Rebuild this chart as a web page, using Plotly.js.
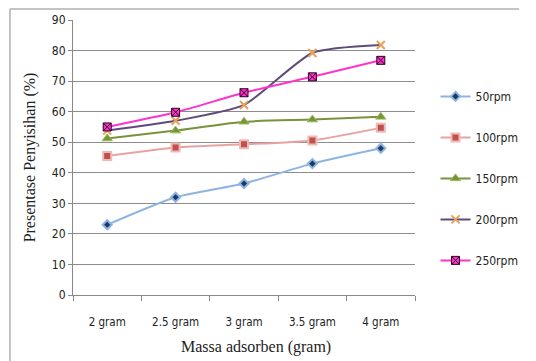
<!DOCTYPE html>
<html><head><meta charset="utf-8">
<script src="https://cdn.plot.ly/plotly-3.0.1.min.js"></script>
<style>html,body{margin:0;padding:0;background:#fff}#chart{width:536px;height:361px}</style>
</head><body><div id="chart"></div>
<script>
const categories = ["2 gram", "2.5 gram", "3 gram", "3.5 gram", "4 gram"];
const seriesNames = ["50rpm", "100rpm", "150rpm", "200rpm", "250rpm"];
const rpm50  = [23.0, 32.0, 36.5, 43.0, 48.0];
const rpm100 = [45.5, 48.3, 49.3, 50.6, 54.7];
const rpm150 = [51.2, 53.8, 56.7, 57.4, 58.3];
const rpm200 = [53.8, 57.0, 62.2, 79.2, 81.8];
const rpm250 = [55.0, 59.8, 66.2, 71.4, 76.8];
const yTicks = [0,10,20,30,40,50,60,70,80,90];

const values = [rpm50, rpm100, rpm150, rpm200, rpm250];
const styles = [
  {line:'#8db4e2', marker:{symbol:'diamond', size:7, color:'#1f3864', line:{color:'#8db4e2', width:2}}},
  {line:'#e6a3a1', marker:{symbol:'square', size:8, color:'#c0504d', line:{color:'#f0b8b6', width:2}}},
  {line:'#77933c', marker:{symbol:'triangle-up', size:9, color:'#77933c', line:{color:'#9bbb59', width:1}}},
  {line:'#604a7b', marker:{symbol:'x-thin-open', size:8, color:'#e8a05a', line:{color:'#e8a05a', width:2}}},
  {line:'#ff33cc', marker:{symbol:'square-x', size:8, color:'#ff33cc', line:{color:'#2b0020', width:1}}}
];
const traces = values.map((v,i)=>({
  x: categories, y: v, name: seriesNames[i], type:'scatter', mode:'lines+markers',
  line:{color:styles[i].line, width:2, shape:'spline', smoothing:0.6},
  marker: styles[i].marker, legendgroup:'g'+i
}));
const tickFont = {family:'DejaVu Sans Condensed, Liberation Sans Narrow, sans-serif', size:12, color:'#222'};

const layout = {
  width:536, height:361,
  margin:{l:73, r:105, t:20, b:66},
  paper_bgcolor:'#fff', plot_bgcolor:'#fff',
  showlegend:true,
  legend:{x:1.06, xanchor:'left', y:0.775, yanchor:'top', tracegroupgap:22,
    font:{family:'DejaVu Sans Condensed, Liberation Sans Narrow, sans-serif', size:12, color:'#222'},
    itemwidth:30},
  xaxis:{type:'category', tickson:'boundaries', ticks:'outside', ticklen:5, tickcolor:'#888',
    showline:true, linecolor:'#888', linewidth:1, showgrid:false, ticklabelstandoff:16,
    tickfont:{family:'DejaVu Sans Condensed, Liberation Sans Narrow, sans-serif', size:11.5, color:'#222'},
    range:[-0.5,4.5]},
  yaxis:{range:[0,90], tickvals:yTicks, ticks:'outside', ticklen:4, tickcolor:'#888',
    showline:true, linecolor:'#888', linewidth:1, gridcolor:'#8c8c8c', gridwidth:1,
    zeroline:false, tickfont:tickFont,
    title:{text:'Presentase Penyisihan (%)', standoff:12,
      font:{family:'Liberation Serif, Times New Roman, serif', size:16, color:'#222'}}},
  annotations:[{xref:'paper', yref:'paper', x:(265-73)/358, y:-0.189, xanchor:'center', yanchor:'middle',
    text:'Massa adsorben (gram)', showarrow:false,
    font:{family:'Liberation Serif, Times New Roman, serif', size:16, color:'#222'}}],
  shapes:[
    {type:'line', xref:'paper', yref:'paper', x0:(7-73)/358, x1:(540-73)/358, y0:(295-9)/275, y1:(295-9)/275, line:{color:'#b0b0b0', width:1.5}},
    {type:'line', xref:'paper', yref:'paper', x0:(7-73)/358, x1:(7-73)/358, y0:(295-9)/275, y1:(295-370)/275, line:{color:'#b0b0b0', width:1.5}}
  ]
};
Plotly.newPlot('chart', traces, layout, {staticPlot:true, displayModeBar:false});
</script></body></html>
